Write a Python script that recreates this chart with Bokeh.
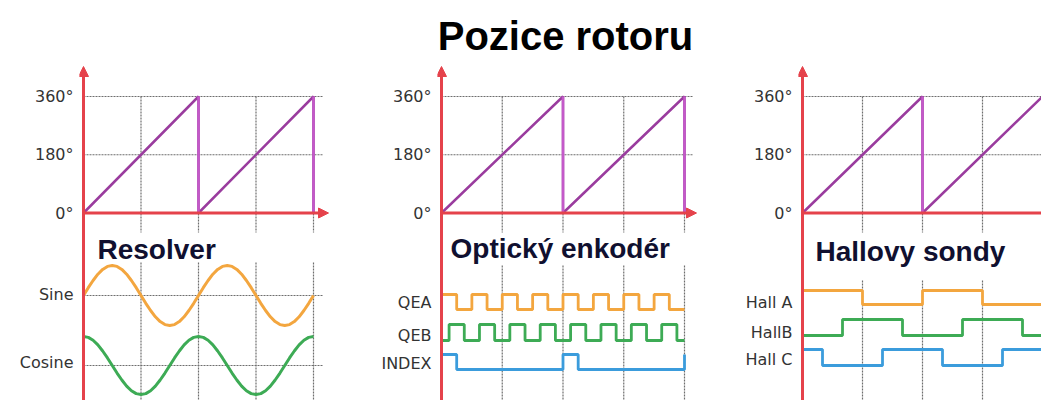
from bokeh.plotting import figure
from bokeh.layouts import column, row
from bokeh.models import Range1d, FixedTicker, Arrow, NormalHead, Label
from bokeh.embed import file_html
from bokeh.resources import INLINE

# ---------------- data ----------------
TITLE = "Pozice rotoru"
PANEL_TITLES = ["Resolver", "Optický enkodér", "Hallovy sondy"]
ANGLE_TICKS = [0, 180, 360]
ANGLE_LABELS = ["0°", "180°", "360°"]

# rotor position (sawtooth), time axis in electrical degrees
saw_t = [0, 360, 360, 720, 720]
saw_deg = [0, 360, 0, 360, 0]
grid_t = [180, 360, 540, 720]

# resolver signals (sampled every 15 degrees)
res_t = [0, 15, 30, 45, 60, 75, 90, 105, 120, 135, 150, 165, 180, 195, 210, 225, 240, 255,
         270, 285, 300, 315, 330, 345, 360, 375, 390, 405, 420, 435, 450, 465, 480, 495,
         510, 525, 540, 555, 570, 585, 600, 615, 630, 645, 660, 675, 690, 705, 720]
sine = [0, 0.26, 0.5, 0.71, 0.87, 0.97, 1, 0.97, 0.87, 0.71, 0.5, 0.26,
        0, -0.26, -0.5, -0.71, -0.87, -0.97, -1, -0.97, -0.87, -0.71, -0.5, -0.26,
        0, 0.26, 0.5, 0.71, 0.87, 0.97, 1, 0.97, 0.87, 0.71, 0.5, 0.26,
        0, -0.26, -0.5, -0.71, -0.87, -0.97, -1, -0.97, -0.87, -0.71, -0.5, -0.26, 0]
cosine = [1, 0.97, 0.87, 0.71, 0.5, 0.26, 0, -0.26, -0.5, -0.71, -0.87, -0.97,
          -1, -0.97, -0.87, -0.71, -0.5, -0.26, 0, 0.26, 0.5, 0.71, 0.87, 0.97,
          1, 0.97, 0.87, 0.71, 0.5, 0.26, 0, -0.26, -0.5, -0.71, -0.87, -0.97,
          -1, -0.97, -0.87, -0.71, -0.5, -0.26, 0, 0.26, 0.5, 0.71, 0.87, 0.97, 1]
RES_LABELS = ["Sine", "Cosine"]

# optical encoder signals (transition angles and levels)
qea_t = [0, 45, 90, 135, 180, 225, 270, 315, 360, 405, 450, 495, 540, 585, 630, 675, 720]
qea_v = [1, 0, 1, 0, 1, 0, 1, 0, 1, 0, 1, 0, 1, 0, 1, 0, 0]
qeb_t = [0, 22.5, 67.5, 112.5, 157.5, 202.5, 247.5, 292.5, 337.5, 382.5, 427.5, 472.5,
         517.5, 562.5, 607.5, 652.5, 697.5, 720]
qeb_v = [0, 1, 0, 1, 0, 1, 0, 1, 0, 1, 0, 1, 0, 1, 0, 1, 0, 0]
index_t = [0, 45, 360, 405, 720]
index_v = [1, 0, 1, 0, 1]
ENC_LABELS = ["QEA", "QEB", "INDEX"]

# hall sensors
hall_a_t = [0, 180, 360, 540, 720]
hall_a_v = [1, 0, 1, 0, 1]
hall_b_t = [0, 120, 300, 480, 660, 720]
hall_b_v = [0, 1, 0, 1, 0, 0]
hall_c_t = [0, 60, 240, 420, 600, 720]
hall_c_v = [1, 0, 1, 0, 1, 1]
HALL_LABELS = ["Hall A", "HallB", "Hall C"]

# ---------------- style / layout ----------------
RED = "#e5424b"
PURPLE = "#9a3c9e"
MAGENTA = "#c459c9"
ORANGE = "#f3a63f"
GREEN = "#3dab55"
BLUE = "#3b9cdc"
GRID = "#6e6e6e"
TEXT_DARK = "#101030"
LABEL_COLOR = "#333333"

SY = 116.5 / 360.0      # px per degree (vertical)
ZERO_Y = 212.5          # page y of 0 degrees
TOP = 60                # page y where panels start
BOTTOM = 400            # page y where panels end


def yd(py):
    return (ZERO_Y - py) / SY


def make_panel(x0, x1, axis_x, sx, tick_pos, tick_labels, hgrid_end, arrow_tip,
               vgrid_start, title, title_x, title_base):
    W = x1 - x0
    ticks = [round(yd(py)) if isinstance(py, float) else py for py in tick_pos]
    p = figure(width=W, height=BOTTOM - TOP, output_backend="svg", toolbar_location=None,
               x_range=Range1d(-4 / sx, (x1 - axis_x) / sx),
               y_range=Range1d(yd(BOTTOM), yd(TOP)),
               x_axis_location=None, y_axis_location="left",
               min_border_left=axis_x - 4 - x0, min_border_right=0,
               min_border_top=0, min_border_bottom=0)
    p.outline_line_color = None
    p.grid.visible = False
    p.background_fill_color = "white"
    ax = p.yaxis[0]
    ax.ticker = FixedTicker(ticks=ticks)
    ax.major_label_overrides = {t: l for t, l in zip(ticks, tick_labels)}
    ax.axis_line_color = None
    ax.major_tick_line_color = None
    ax.minor_tick_line_color = None
    ax.major_tick_out = 0
    ax.major_tick_in = 0
    ax.major_label_standoff = 6
    ax.major_label_text_font = "DejaVu Sans"
    ax.major_label_text_font_size = "16px"
    ax.major_label_text_color = LABEL_COLOR

    hx = (hgrid_end - axis_x) / sx
    # horizontal grid of the angle plot
    hlev = [t for t in ANGLE_TICKS if t != 0]
    p.segment(x0=[0] * len(hlev), y0=hlev, x1=[hx] * len(hlev), y1=hlev,
              line_color=GRID, line_width=1.2, line_dash="2 1")
    # vertical grid
    n = len(grid_t)
    p.segment(x0=grid_t, y0=[max(ANGLE_TICKS)] * n, x1=grid_t, y1=[yd(232)] * n,
              line_color=GRID, line_width=1.2, line_dash="2 1")
    p.segment(x0=grid_t, y0=[yd(vgrid_start)] * n, x1=grid_t, y1=[yd(410)] * n,
              line_color=GRID, line_width=1.2, line_dash="2 1")

    # sawtooth
    p.line(saw_t, saw_deg, line_color=PURPLE, line_width=2.5)
    drops = [i for i in range(1, len(saw_t)) if saw_t[i] == saw_t[i - 1]]
    p.segment(x0=[saw_t[i] for i in drops], y0=[saw_deg[i - 1] for i in drops],
              x1=[saw_t[i] for i in drops], y1=[saw_deg[i] for i in drops],
              line_color=MAGENTA, line_width=2.5)

    # red axes
    p.add_layout(Arrow(end=NormalHead(size=10, fill_color=RED, line_color=RED, line_width=1),
                       x_start=0, y_start=0, x_end=(arrow_tip - axis_x) / sx, y_end=0,
                       line_color=RED, line_width=3))
    p.add_layout(Arrow(end=NormalHead(size=10, fill_color=RED, line_color=RED, line_width=1),
                       x_start=0, y_start=yd(420), x_end=0, y_end=yd(66),
                       line_color=RED, line_width=3))

    p.add_layout(Label(x=(title_x - axis_x) / sx, y=yd(title_base), text=title,
                       text_font="Liberation Sans", text_font_style="bold",
                       text_font_size="28px", text_color=TEXT_DARK,
                       text_align="left", text_baseline="alphabetic"))
    return p, hx


def lev(vals, low_py, high_py):
    lo, hi = yd(low_py), yd(high_py)
    return [lo + v * (hi - lo) for v in vals]


# ----- panel 1: resolver -----
p1, hx1 = make_panel(0, 360, 83, 230 / 720, [0, 180, 360, 294.0, 362.0],
                     ANGLE_LABELS + RES_LABELS, 322, 328, 262,
                     PANEL_TITLES[0], 97, 249)
sin_c, sin_a = yd(295), 30 / SY
cos_c, cos_a = yd(365), 29 / SY
p1.segment(x0=[0, 0], y0=[sin_c, cos_c], x1=[hx1, hx1], y1=[sin_c, cos_c],
           line_color=GRID, line_width=1.2, line_dash="2 1")
p1.line(res_t, [sin_c + sin_a * v for v in sine], line_color=ORANGE, line_width=3)
p1.line(res_t, [cos_c + cos_a * v for v in cosine], line_color=GREEN, line_width=3)

# ----- panel 2: optical encoder -----
p2, hx2 = make_panel(360, 720, 441, 243 / 720, [0, 180, 360, 302.0, 335.0, 363.0],
                     ANGLE_LABELS + ENC_LABELS, 692, 696, 265,
                     PANEL_TITLES[1], 450, 248)
p2.step(qea_t, lev(qea_v, 309, 294), mode="after", line_color=ORANGE, line_width=2.8)
p2.step(qeb_t, lev(qeb_v, 340, 324), mode="after", line_color=GREEN, line_width=2.8)
p2.step(index_t, lev(index_v, 369, 354), mode="after", line_color=BLUE, line_width=2.8)

# ----- panel 3: hall sensors -----
p3, hx3 = make_panel(720, 1041, 802, 120 / 360, [0, 180, 360, 302.0, 332.0, 359.0],
                     ANGLE_LABELS + HALL_LABELS, 1070, 1080, 280,
                     PANEL_TITLES[2], 815, 251)
p3.step(hall_a_t, lev(hall_a_v, 304, 290), mode="after", line_color=ORANGE, line_width=2.8)
p3.step(hall_b_t, lev(hall_b_v, 335, 319), mode="after", line_color=GREEN, line_width=2.8)
p3.step(hall_c_t, lev(hall_c_v, 365, 349), mode="after", line_color=BLUE, line_width=2.8)

# ----- title -----
t = figure(width=1041, height=TOP, output_backend="svg", toolbar_location=None,
           x_range=Range1d(0, 1041), y_range=Range1d(0, TOP),
           x_axis_location=None, y_axis_location=None, min_border=0)
t.outline_line_color = None
t.grid.visible = False
t.add_layout(Label(x=565, y=TOP - 35, text=TITLE, text_align="center",
                   text_baseline="alphabetic",
                   text_font="Liberation Sans", text_font_style="bold",
                   text_font_size="40px", text_color="black"))

layout = column(t, row(p1, p2, p3, spacing=0), spacing=0)
open("out.html", "w").write(file_html(layout, INLINE))
